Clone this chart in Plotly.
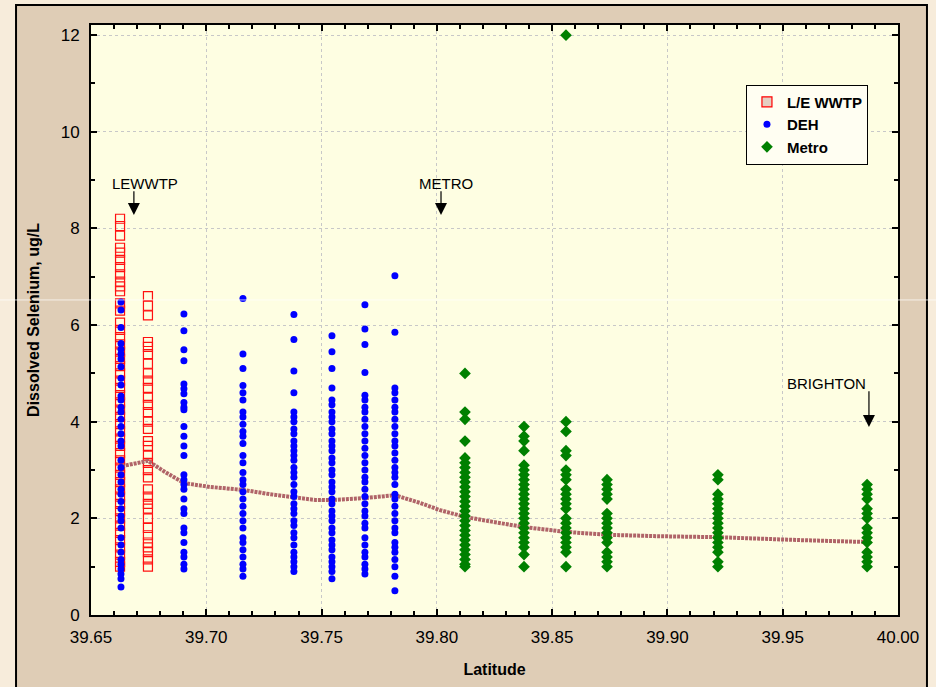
import plotly.graph_objects as go

# Sampling-site latitudes (columns of points) and measured dissolved selenium (ug/L)
LE_LAT = [39.6626, 39.6747]
LE_VALUES = [
    [8.2, 8.05, 7.85, 7.6, 7.5, 7.35, 7.2, 7.05, 6.9, 6.8, 6.7, 6.45, 6.3, 6.05,
     5.9, 5.75, 5.6, 5.45, 5.3, 5.15, 5.0, 4.85, 4.7, 4.55, 4.4, 4.25, 4.1, 3.95,
     3.8, 3.65, 3.5, 3.35, 3.2, 3.05, 2.9, 2.75, 2.6, 2.45, 2.3, 2.15, 2.0, 1.85,
     1.7, 1.55, 1.4, 1.25, 1.1, 1.0],
    [6.6, 6.4, 6.2, 5.65, 5.55, 5.4, 5.2, 5.0, 4.85, 4.7, 4.5, 4.35, 4.2, 4.0,
     3.85, 3.6, 3.5, 3.3, 3.15, 3.0, 2.85, 2.6, 2.45, 2.3, 2.2, 2.0, 1.8, 1.65,
     1.5, 1.4, 1.3, 1.15, 1.0],
]

DEH_LAT = [39.663, 39.6903, 39.7159, 39.738, 39.7545, 39.7688, 39.7818]
DEH_VALUES = [
    [6.48, 6.31, 5.95, 5.62, 5.5, 5.4, 5.3, 5.14, 4.9, 4.76, 4.53, 4.45, 4.3, 4.2,
     4.05, 3.9, 3.75, 3.6, 3.5, 3.2, 3.05, 2.9, 2.75, 2.6, 2.5, 2.35, 2.2, 2.05,
     1.95, 1.8, 1.6, 1.45, 1.3, 1.15, 1.05, 0.95, 0.85, 0.75, 0.58],
    [6.23, 5.88, 5.49, 5.26, 4.78, 4.68, 4.58, 4.4, 4.3, 4.25, 3.9, 3.7, 3.5, 3.3,
     2.9, 2.8, 2.7, 2.6, 2.4, 2.2, 2.1, 1.8, 1.7, 1.5, 1.3, 1.2, 1.05, 0.95],
    [6.55, 5.4, 5.1, 4.75, 4.6, 4.45, 4.2, 4.1, 3.95, 3.8, 3.7, 3.55, 3.3, 3.15,
     2.95, 2.8, 2.7, 2.55, 2.4, 2.25, 2.1, 1.95, 1.8, 1.6, 1.5, 1.35, 1.2, 1.05,
     0.95, 0.8],
    [6.22, 5.7, 5.05, 4.6, 4.2, 4.1, 4.0, 3.85, 3.75, 3.6, 3.5, 3.4, 3.3, 3.2,
     3.05, 2.95, 2.85, 2.7, 2.55, 2.45, 2.3, 2.2, 2.1, 1.95, 1.85, 1.7, 1.6, 1.45,
     1.3, 1.2, 1.1, 1.0, 0.9],
    [5.78, 5.45, 5.1, 4.7, 4.45, 4.35, 4.2, 4.1, 4.0, 3.85, 3.75, 3.6, 3.5, 3.4,
     3.25, 3.15, 3.0, 2.9, 2.75, 2.65, 2.55, 2.4, 2.3, 2.15, 2.05, 1.95, 1.8, 1.7,
     1.55, 1.45, 1.35, 1.2, 1.1, 1.0, 0.9, 0.75],
    [6.42, 5.92, 5.6, 5.02, 4.55, 4.45, 4.3, 4.2, 4.05, 3.9, 3.75, 3.6, 3.45, 3.3,
     3.15, 3.0, 2.85, 2.75, 2.6, 2.45, 2.3, 2.15, 2.05, 1.9, 1.8, 1.6, 1.45, 1.3,
     1.2, 1.05, 0.95, 0.85],
    [7.02, 5.85, 4.7, 4.6, 4.45, 4.3, 4.2, 4.05, 3.9, 3.75, 3.6, 3.5, 3.35, 3.2,
     3.05, 2.95, 2.85, 2.7, 2.5, 2.4, 2.25, 2.1, 1.95, 1.8, 1.7, 1.5, 1.4, 1.3,
     1.15, 1.0, 0.8, 0.5],
]

METRO_LAT = [39.8122, 39.8378, 39.856, 39.8738, 39.9219, 39.9866]
METRO_VALUES = [
    [5.0, 4.2, 4.05, 3.6, 3.25, 3.15, 3.05, 2.95, 2.85, 2.75, 2.65, 2.55, 2.45,
     2.35, 2.25, 2.15, 2.05, 1.95, 1.85, 1.75, 1.65, 1.55, 1.45, 1.35, 1.25, 1.15,
     1.05, 1.0],
    [3.9, 3.7, 3.6, 3.4, 3.1, 3.0, 2.9, 2.8, 2.7, 2.6, 2.5, 2.4, 2.3, 2.2, 2.1,
     2.0, 1.9, 1.8, 1.7, 1.6, 1.5, 1.4, 1.25, 1.0],
    [12.0, 4.0, 3.8, 3.4, 3.3, 3.0, 2.9, 2.8, 2.6, 2.5, 2.4, 2.3, 2.2, 2.0, 1.9,
     1.8, 1.7, 1.6, 1.5, 1.4, 1.3, 1.0],
    [2.8, 2.7, 2.6, 2.5, 2.4, 2.1, 2.0, 1.9, 1.8, 1.7, 1.6, 1.5, 1.3, 1.2, 1.1, 1.0],
    [2.9, 2.8, 2.5, 2.4, 2.3, 2.2, 2.1, 2.0, 1.9, 1.8, 1.7, 1.6, 1.5, 1.4, 1.3,
     1.1, 1.0],
    [2.7, 2.6, 2.5, 2.4, 2.2, 2.1, 2.0, 1.8, 1.7, 1.6, 1.5, 1.3, 1.2, 1.1, 1.0],
]

# Smoothed trend along the river
TREND_LAT = [39.6634, 39.6747, 39.6821, 39.6903, 39.7016, 39.7159, 39.7276,
             39.738, 39.7472, 39.7545, 39.7688, 39.7818, 39.7927, 39.8014,
             39.8122, 39.8252, 39.8378, 39.856, 39.8738, 39.8968, 39.9219,
             39.9575, 39.9866]
TREND_VALUES = [3.08, 3.19, 2.96, 2.73, 2.65, 2.59, 2.50, 2.44, 2.38, 2.38,
                2.42, 2.48, 2.32, 2.17, 2.03, 1.92, 1.82, 1.72, 1.66, 1.63,
                1.61, 1.55, 1.51]

# Site markers: (label, latitude of arrow, arrow tip, arrow tail, label latitude, label value)
SITES = [
    ("LEWWTP", 39.6686, 8.28, 8.80, 39.6734, 8.94),
    ("METRO", 39.8018, 8.28, 8.80, 39.8040, 8.94),
    ("BRIGHTON", 39.9874, 3.89, 4.66, 39.9692, 4.80),
]

X_TICKS = [39.65, 39.70, 39.75, 39.80, 39.85, 39.90, 39.95, 40.00]
Y_TICKS = [0, 2, 4, 6, 8, 10, 12]


def flatten(lats, groups):
    xs, ys = [], []
    for lat, vals in zip(lats, groups):
        xs.extend([lat] * len(vals))
        ys.extend(vals)
    return xs, ys


FONT = "Liberation Sans, Arial, sans-serif"
OUTER = "#f7ecdb"
PANEL = "#dfcdb6"

fig = go.Figure()

le_x, le_y = flatten(LE_LAT, LE_VALUES)
fig.add_trace(go.Scatter(
    x=le_x, y=le_y, mode="markers", showlegend=False, name="L/E WWTP",
    marker=dict(symbol="square-open", size=9, color="#ff1010", line=dict(width=1.2)),
))

fig.add_trace(go.Scatter(
    x=TREND_LAT, y=TREND_VALUES, mode="lines", showlegend=False,
    line=dict(color="#b06468", width=4, dash="3px,1px"),
))

deh_x, deh_y = flatten(DEH_LAT, DEH_VALUES)
fig.add_trace(go.Scatter(
    x=deh_x, y=deh_y, mode="markers", name="DEH", legendrank=2,
    marker=dict(symbol="circle", size=7, color="#0000ff"),
))

metro_x, metro_y = flatten(METRO_LAT, METRO_VALUES)
fig.add_trace(go.Scatter(
    x=metro_x, y=metro_y, mode="markers", name="Metro", legendrank=3,
    marker=dict(symbol="diamond", size=9, color="#008000"),
))

# Legend key for the WWTP series (filled swatch)
fig.add_trace(go.Scatter(
    x=[None], y=[None], mode="markers", name="L/E WWTP", legendrank=1,
    marker=dict(symbol="square", size=10, color="#e4cfc2",
                line=dict(color="#ff0000", width=1.2)),
))

annotations = []
for label, lat, tip, tail, tlat, tval in SITES:
    annotations.append(dict(
        x=lat, y=tip, ax=lat, ay=tail, xref="x", yref="y", axref="x", ayref="y",
        text="", showarrow=True, arrowhead=2, arrowsize=2.0, arrowwidth=1.2,
        arrowcolor="black",
    ))
    annotations.append(dict(
        x=tlat, y=tval, xref="x", yref="y", text=label, showarrow=False,
        font=dict(family=FONT, size=15, color="black"),
    ))

# Light margin strips around the framed panel (paper background is the panel colour)
L, R, T, B = -0.1128, 1.0471, 1.0424, -0.13
FX0, FX1, FY1 = -0.0929, 1.0359, 1.0339
shapes = [
    dict(type="rect", xref="paper", yref="paper", x0=L, x1=FX0, y0=B, y1=T,
         fillcolor=OUTER, line=dict(width=0), layer="below"),
    dict(type="rect", xref="paper", yref="paper", x0=FX1, x1=R, y0=B, y1=T,
         fillcolor=OUTER, line=dict(width=0), layer="below"),
    dict(type="rect", xref="paper", yref="paper", x0=L, x1=R, y0=FY1, y1=T,
         fillcolor=OUTER, line=dict(width=0), layer="below"),
    dict(type="rect", xref="paper", yref="paper", x0=FX0, x1=FX1, y0=B, y1=FY1,
         fillcolor="rgba(0,0,0,0)", line=dict(color="black", width=2), layer="below"),
    # Faint light streak across the figure
    dict(type="line", xref="paper", yref="paper", x0=L, x1=R,
         y0=0.534, y1=0.534, line=dict(color="rgba(255,255,255,0.7)", width=1),
         layer="above"),
]

fig.update_layout(
    width=936, height=687,
    margin=dict(l=91, r=38, t=25, b=72),
    paper_bgcolor=PANEL,
    plot_bgcolor="#fefee2",
    font=dict(family=FONT, size=17, color="black"),
    showlegend=True,
    legend=dict(
        x=0.8116, y=0.899, xanchor="left", yanchor="top",
        bgcolor="#fffef2", bordercolor="black", borderwidth=1,
        font=dict(family=FONT, size=15, color="black", weight="bold"),
        itemwidth=30, tracegroupgap=0,
    ),
    annotations=annotations,
    shapes=shapes,
)

axis_common = dict(
    showline=True, linecolor="black", linewidth=2, mirror="ticks",
    ticks="inside", ticklen=6, tickwidth=1.5, tickcolor="black",
    showgrid=True, gridcolor="#c8c8c8", griddash="dot", gridwidth=1,
    zeroline=False,
)

fig.update_xaxes(
    range=[39.65, 40.0], tickvals=X_TICKS,
    ticktext=[f"{v:.2f}" for v in X_TICKS],
    minor=dict(dtick=0.01, ticks="inside", ticklen=4, tickcolor="black", showgrid=False),
    ticklabelstandoff=6,
    title=dict(text="Latitude", standoff=17,
               font=dict(family=FONT, size=16, weight="bold")),
    **axis_common,
)
fig.update_yaxes(
    range=[0, 12.21], tickvals=Y_TICKS,
    minor=dict(dtick=1, ticks="inside", ticklen=4, tickcolor="black", showgrid=False),
    ticklabelstandoff=6,
    title=dict(text="Dissolved Selenium, ug/L", standoff=17,
               font=dict(family=FONT, size=16, weight="bold")),
    **axis_common,
)

fig.write_html("out.html")
